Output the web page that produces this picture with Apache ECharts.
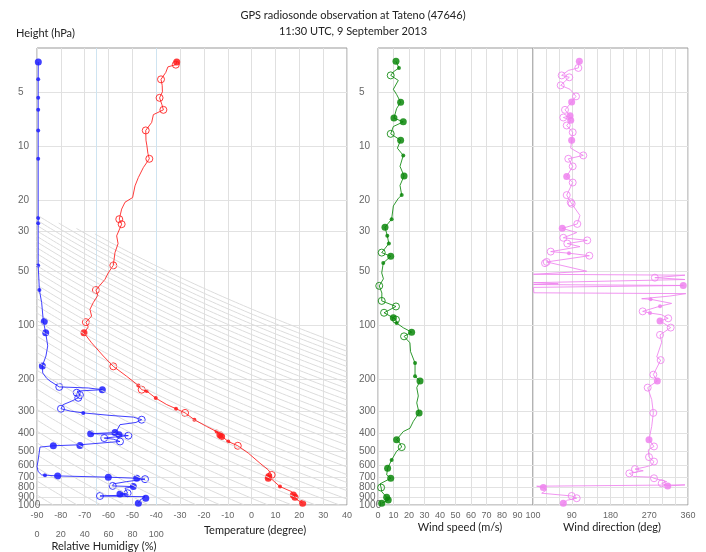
<!DOCTYPE html>
<html>
<head>
<meta charset="utf-8">
<script src="https://cdn.jsdelivr.net/npm/echarts@6/dist/echarts.min.js"></script>
<style>
    html, body { margin: 0; padding: 0; background: #fff; }
    #chart { width: 706px; height: 552px; }
</style>
</head>
<body>
<div id="chart"></div>
<script>
// 气压刻度 (hPa)
var pressureTicks = [5, 10, 20, 30, 50, 100, 200, 300, 400, 500, 600, 700, 800, 900, 1000];
var crowdedTicks = [900];
var rhTicks = [0, 20, 40, 60, 80, 100];
var windDirTicks = [90, 180, 270, 360];

// [pressure hPa, value, marker]  marker: F big dot, f small dot, o open circle
var tempProfile = [
    [3.41, -31.4, 'F'], [3.53, -31.8, 'o'], [3.63, -35.1, ''], [3.9, -36.0, ''], [4.26, -38.0, 'o'],
    [4.6, -37.5, ''], [5.0, -37.4, ''], [5.4, -38.6, 'o'], [5.9, -37.6, ''], [6.3, -37.0, 'o'],
    [6.7, -41.2, ''], [7.4, -41.9, ''], [8.2, -44.4, 'o'], [9.3, -44.3, ''], [10.0, -43.9, ''],
    [11.0, -43.5, ''], [11.8, -42.9, 'o'], [13.2, -45.4, ''], [15.0, -47.5, ''], [16.7, -48.9, ''],
    [19.4, -49.9, ''], [20.6, -53.1, ''], [22.5, -54.5, ''], [25.6, -55.5, 'o'], [27.3, -54.5, 'o'],
    [31.7, -56.6, ''], [35.0, -56.0, ''], [39.3, -57.3, ''], [46.3, -58.0, 'o'], [50.9, -60.1, ''],
    [55.4, -61.5, ''], [63.5, -65.3, 'o'], [68.0, -64.5, ''], [74.6, -66.4, ''], [81.4, -67.8, ''],
    [88.8, -67.1, ''], [95.9, -69.5, 'o'], [102, -68.5, ''], [110, -70.3, 'F'], [125, -67.1, ''],
    [148, -62.2, ''], [169, -58.0, 'o'], [192, -52.4, ''], [216, -47.5, 'f'], [228, -46.1, 'o'],
    [232, -44.0, 'f'], [254, -40.2, 'f'], [276, -35.6, ''], [291, -31.7, 'f'], [307, -27.9, 'o'],
    [335, -24.0, 'f'], [365, -18.9, ''], [390, -14.7, 'f'], [406, -13.3, 'F'], [415, -12.6, 'F'],
    [443, -9.8, 'f'], [468, -5.8, 'o'], [514, -1.4, ''], [585, 3.5, ''], [638, 7.0, ''],
    [680, 8.4, 'o'], [695, 7.2, 'F'], [710, 7.0, 'F'], [790, 11.9, 'f'], [843, 16.8, ''],
    [880, 17.5, 'F'], [906, 18.2, 'F'], [930, 18.8, ''], [978, 21.4, 'F']
];

var rhProfile = [
    [3.41, 1.1, 'F'], [4.26, 1, 'f'], [5.4, 1, 'f'], [6.3, 1, 'f'], [8.2, 1, 'f'], [11.8, 1, 'f'],
    [25.2, 1, 'f'], [27, 1, 'f'], [46.3, 1, 'f'], [63.5, 2, 'f'], [74.6, 3.9, ''], [94.5, 5.3, ''],
    [95, 6.1, 'F'], [110, 7.3, 'F'], [130, 9, ''], [148, 7.5, ''], [168, 4.5, 'F'], [184, 4.8, ''],
    [197, 8.1, ''], [204, 10.9, ''], [220, 18.7, 'o'], [223, 43, ''], [228, 54.8, 'F'], [232, 33.8, ''],
    [237, 33.3, 'o'], [244, 36, 'o'], [253, 34.6, 'o'], [264, 29.1, ''], [276, 22, ''], [291, 20.1, 'o'],
    [300, 28, ''], [307, 38.8, 'f'], [317, 61.2, ''], [324, 80.8, ''], [335, 87.8, 'o'], [347, 83, ''],
    [357, 69.6, ''], [381, 67.3, ''], [395, 65.4, 'F'], [401, 45, 'F'], [403, 61.2, ''], [406, 68.8, 'F'],
    [411, 76.6, 'o'], [424, 56.4, 'o'], [430, 64, ''], [443, 69.6, 'o'], [462, 36, ''], [466, 36, 'F'],
    [468, 13.7, 'F'], [476, 2.5, ''], [561, 1, ''], [611, 0, ''], [652, 1, ''], [680, 3.9, ''],
    [682, 6.7, 'f'], [689, 17.3, 'F'], [700, 59.8, 'F'], [710, 83.6, 'F'], [714, 87.8, ''], [718, 90.6, 'o'],
    [741, 75.2, ''], [763, 64, ''], [783, 63.5, 'o'], [790, 80.8, 'F'], [807, 73.8, ''], [832, 75, ''],
    [860, 76, 'o'], [868, 69.6, 'F'], [880, 76.6, ''], [891, 52.8, 'o'], [899, 90.6, ''], [917, 91.2, 'F'],
    [940, 86.4, ''], [978, 85, 'F']
];

var windSpeedProfile = [
    [3.38, 11.6, 'F'], [3.68, 13.5, 'f'], [3.87, 9.9, ''], [4.05, 8.2, 'o'], [4.32, 13.1, ''], [4.84, 9.9, ''],
    [5.17, 12, ''], [5.71, 14.6, 'F'], [6.2, 12, ''], [7.0, 10.3, 'F'], [7.35, 16.3, 'F'], [7.8, 9.9, ''],
    [8.57, 8.2, 'o'], [9.3, 14.6, 'F'], [10.3, 12.5, ''], [11.3, 16.3, 'f'], [13, 14.2, ''], [14.7, 16.8, 'F'],
    [16.6, 14.2, ''], [18.8, 15.3, 'f'], [19.6, 13.1, ''], [21.6, 9.9, ''], [22.1, 8.8, ''], [25.6, 8.8, 'f'],
    [28.4, 4.5, 'F'], [31.7, 6, 'f'], [35, 7, 'f'], [39.3, 2.4, 'o'], [41.2, 8.2, 'F'], [44.9, 3.4, 'f'],
    [51, 2.4, ''], [55, 3.5, ''], [60.2, 0.8, 'o'], [66, 2.5, ''], [73, 2.4, 'o'], [78.4, 11.6, 'o'],
    [85, 3.9, 'o'], [90.7, 9.9, 'F'], [92.8, 11.6, 'o'], [97, 12, 'f'], [103, 16.3, ''], [109, 21.7, 'F'],
    [115, 16.8, 'o'], [125, 20.6, ''], [140, 21, ''], [162, 23.9, 'f'], [192, 23.9, 'f'], [204, 27.1, 'F'],
    [222, 25, ''], [247, 26, ''], [270, 25, ''], [307, 26.5, 'F'], [342, 22.8, ''], [374, 20.6, ''],
    [390, 16.3, ''], [433, 12, 'F'], [450, 14, ''], [476, 15.3, 'o'], [502, 12, ''], [561, 8.8, 'f'],
    [624, 6.2, 'F'], [680, 5.6, ''], [710, 8.2, 'F'], [763, 1.3, ''], [800, 2, 'o'], [843, 2.4, ''],
    [906, 5.6, 'F'], [938, 6.6, 'F'], [978, 2.4, 'F']
];

var windDirProfile = [
    [3.38, 107.6, 'F'], [3.68, 105.3, 'o'], [3.8, 82, ''], [4.05, 66.6, 'o'], [4.15, 84.3, 'o'], [4.6, 64.3, 'o'],
    [4.84, 86, ''], [5.3, 99.9, 'o'], [5.7, 89.8, 'F'], [6.3, 74.3, 'o'], [6.8, 86, 'F'], [6.95, 70.4, 'o'],
    [7.2, 87.6, 'F'], [7.7, 78.3, 'o'], [8.4, 92.2, 'o'], [9.3, 89.8, 'F'], [10.3, 87.6, ''], [11.3, 116.8, 'o'],
    [11.8, 82, 'o'], [13, 92.2, 'o'], [14.8, 78.3, 'F'], [16, 92.2, 'o'], [18.8, 78.3, 'o'], [20.6, 87.6, 'o'],
    [21, 89.8, 'o'], [24.4, 109, ''], [27.2, 102.9, 'o'], [28.8, 68, 'F'], [30.4, 101.5, ''], [32.5, 70.4, 'o'],
    [33.6, 126, 'o'], [35, 79.7, 'o'], [36.4, 109, ''], [38.8, 41.1, 'o'], [39.6, 83.6, 'f'], [40.9, 130.8, 'o'],
    [44.3, 31.8, 'o'], [45, 27.9, 'o'], [49.9, 124.7, ''], [51.9, 0.8, ''], [52.5, 353, ''], [54.2, 283, 'o'],
    [55.5, 353, ''], [57.8, 1, ''], [58.6, 58.8, ''], [59.2, 1, ''], [59.9, 349, 'F'], [61.4, 1, ''],
    [65.8, 2, ''], [66.5, 355, ''], [68.6, 318, ''], [71, 252.4, ''], [71.5, 273, 'f'], [75.4, 322, ''],
    [78.1, 295, 'f'], [83.5, 254.7, 'o'], [85.3, 271.7, 'f'], [87.2, 298.9, ''], [91.3, 314, 'o'], [94.4, 295, 'F'],
    [102.8, 319.8, 'o'], [112.9, 295, 'o'], [124, 298.9, ''], [150, 287.3, ''], [156, 296.6, 'o'], [188, 279.5, 'o'],
    [204, 288.7, 'F'], [222, 266.4, 'o'], [259, 275.7, ''], [307, 279.5, 'o'], [365, 275.7, ''], [433, 269.4, 'F'],
    [472, 281, 'o'], [493, 267.8, ''], [541, 269.4, 'o'], [573, 281, 'o'], [600, 276, ''], [615, 260, ''],
    [631, 236.9, 'o'], [645, 256, ''], [667, 223.7, 'o'], [694, 233, ''], [700, 275.7, ''], [710, 281, 'o'],
    [741, 310.5, ''], [757, 298.9, 'o'], [783, 312.9, 'F'], [773, 353, ''], [786, 8.5, ''], [800, 24, 'F'],
    [824, 31.8, ''], [860, 20.2, ''], [891, 89.8, 'o'], [917, 101.5, 'o'], [940, 80, ''], [978, 70.4, 'F']
];

// 干绝热线 (位温, K)
var adiabatFrom = 190, adiabatTo = 640, adiabatStep = 10;

var chart = echarts.init(document.getElementById('chart'));
var lg = function (p) { return Math.log10(p); };
var tickLogs = pressureTicks.map(lg);
var labelLogs = pressureTicks.filter(function (p) { return crowdedTicks.indexOf(p) < 0; }).map(lg);
var crowdedLogs = crowdedTicks.map(lg);
var tickFont = "'Liberation Sans Narrow', 'Liberation Sans', sans-serif";
var textFont = "Lato, 'Liberation Sans', sans-serif";

// 绝热线上端的斜切边界
function boundaryLog(t) {
    return 1.387 + (t + 90) * 0.551 / 130;
}

function adiabatData() {
    var out = [];
    for (var th = adiabatFrom; th <= adiabatTo; th += adiabatStep) {
        for (var lp = 3; lp >= 1.2; lp -= 0.01) {
            var t = th * Math.pow(Math.pow(10, lp) / 1000, 0.2857) - 273.15;
            if (lp < boundaryLog(t)) break;
            out.push([t, lp]);
        }
        out.push(['-', '-']);
    }
    return out;
}

function buildProfile(profile, color, xi, yi) {
    var line = {
        type: 'line', xAxisIndex: xi, yAxisIndex: yi,
        data: profile.map(function (d) { return [d[1], lg(d[0])]; }),
        showSymbol: false, symbol: 'none', silent: true,
        lineStyle: { color: color, width: 1, opacity: 0.85 }
    };
    var pts = [];
    profile.forEach(function (d) {
        if (!d[2]) return;
        pts.push({
            value: [d[1], lg(d[0])],
            symbolSize: d[2] === 'f' ? 4 : 7,
            itemStyle: d[2] === 'o'
                ? { color: 'rgba(0,0,0,0)', borderColor: color, borderWidth: 1 }
                : { color: color }
        });
    });
    var dots = {
        type: 'scatter', xAxisIndex: xi, yAxisIndex: yi, data: pts, silent: true,
        itemStyle: { opacity: 0.85 }
    };
    return [line, dots];
}

// 对数气压轴: 数值为 log10(p)
function yAxisFor(gridIndex, showLabel, labels, showSplit) {
    return {
        type: 'value', gridIndex: gridIndex, position: 'left', inverse: true, min: lg(2.85), max: 3.0001,
        axisLine: { show: false },
        axisTick: { show: false, customValues: showSplit ? tickLogs : labels },
        axisLabel: {
            show: showLabel, customValues: labels, align: 'left', margin: 19,
            showMinLabel: true, showMaxLabel: true, hideOverlap: false,
            fontSize: 10, color: '#666', fontFamily: tickFont,
            formatter: function (v) { return Math.round(Math.pow(10, v)); }
        },
        splitLine: { show: showSplit, lineStyle: { color: '#e2e2e2', width: 1 } }
    };
}

function xLabel(extra) {
    var o = { fontSize: 9, color: '#666', fontFamily: tickFont, margin: 6 };
    for (var k in extra) o[k] = extra[k];
    return o;
}

var gridBase = { show: true, borderColor: '#999', borderWidth: 1, top: 48, bottom: 47, containLabel: false, outerBoundsMode: 'none' };

var series = [{
    type: 'line', xAxisIndex: 0, yAxisIndex: 0, data: adiabatData(),
    showSymbol: false, symbol: 'none', silent: true, connectNulls: false,
    lineStyle: { color: '#dcdcdc', width: 1 }
}];
series = series.concat(
    buildProfile(rhProfile, '#1f1fff', 1, 0),
    buildProfile(tempProfile, '#ff1a1a', 0, 0),
    buildProfile(windSpeedProfile, '#0a870a', 2, 1),
    buildProfile(windDirProfile, '#ee82ee', 3, 2)
);

var option = {
    animation: false,
    grid: [
        Object.assign({ left: 37, right: 359 }, gridBase),
        Object.assign({ left: 378, right: 173 }, gridBase),
        Object.assign({ left: 533, right: 18 }, gridBase)
    ],
    xAxis: [
        {
            type: 'value', gridIndex: 0, min: -90, max: 40, interval: 10, position: 'bottom',
            axisLine: { show: false }, axisTick: { show: false },
            axisLabel: xLabel({}),
            splitLine: { show: true, lineStyle: { color: '#e0e0e0' } }
        },
        {
            type: 'value', gridIndex: 0, min: 0, max: 260, position: 'bottom', offset: 19,
            axisLine: { show: false },
            axisTick: { show: false, customValues: [50, 100] },
            axisLabel: xLabel({ customValues: rhTicks }),
            splitLine: { show: true, lineStyle: { color: '#cfe4f1' } }
        },
        {
            type: 'value', gridIndex: 1, min: 0, max: 100, interval: 10,
            axisLine: { show: false }, axisTick: { show: false },
            axisLabel: xLabel({}),
            splitLine: { show: true, lineStyle: { color: '#e0e0e0' } }
        },
        {
            type: 'value', gridIndex: 2, min: 0, max: 360, interval: 30,
            axisLine: { show: false }, axisTick: { show: false },
            axisLabel: xLabel({ customValues: windDirTicks }),
            splitLine: { show: true, lineStyle: { color: '#e0e0e0' } }
        }
    ],
    yAxis: [
        yAxisFor(0, true, labelLogs, true),
        yAxisFor(1, true, labelLogs, true),
        yAxisFor(2, false, labelLogs, true),
        yAxisFor(0, true, crowdedLogs, false),
        yAxisFor(1, true, crowdedLogs, false)
    ],
    graphic: [
        { type: 'text', x: 353, y: 15, style: { text: 'GPS radiosonde observation at Tateno (47646)', font: '11px ' + textFont, fill: '#222', align: 'center', verticalAlign: 'middle', textAlign: 'center', textVerticalAlign: 'middle' } },
        { type: 'text', x: 353, y: 31, style: { text: '11:30 UTC, 9 September 2013', font: '11px ' + textFont, fill: '#222', align: 'center', verticalAlign: 'middle', textAlign: 'center', textVerticalAlign: 'middle' } },
        { type: 'text', x: 16, y: 33, style: { text: 'Height (hPa)', font: '11px ' + textFont, fill: '#222', align: 'left', verticalAlign: 'middle', textAlign: 'left', textVerticalAlign: 'middle' } },
        { type: 'text', x: 255, y: 530, style: { text: 'Temperature (degree)', font: '11px ' + textFont, fill: '#222', align: 'center', verticalAlign: 'middle', textAlign: 'center', textVerticalAlign: 'middle' } },
        { type: 'text', x: 104, y: 546, style: { text: 'Relative Humidigy (%)', font: '11px ' + textFont, fill: '#222', align: 'center', verticalAlign: 'middle', textAlign: 'center', textVerticalAlign: 'middle' } },
        { type: 'text', x: 460, y: 527, style: { text: 'Wind speed (m/s)', font: '11px ' + textFont, fill: '#222', align: 'center', verticalAlign: 'middle', textAlign: 'center', textVerticalAlign: 'middle' } },
        { type: 'text', x: 612, y: 527, style: { text: 'Wind direction (deg)', font: '11px ' + textFont, fill: '#222', align: 'center', verticalAlign: 'middle', textAlign: 'center', textVerticalAlign: 'middle' } }
    ],
    series: series
};
chart.setOption(option);

window.addEventListener('resize', function () {
    chart.resize();
});
</script>
</body>
</html>
